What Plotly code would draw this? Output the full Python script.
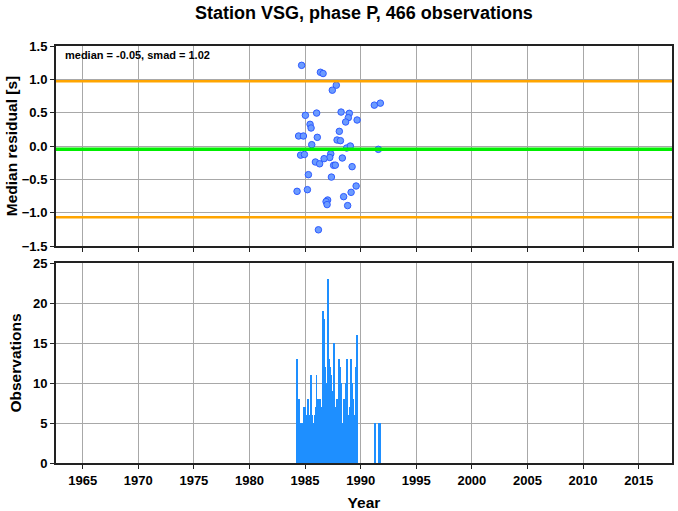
import plotly.graph_objects as go
from plotly.subplots import make_subplots

# ---- data ----
median = -0.05
smad = 1.02

res_years = [1984.69, 1986.38, 1986.62, 1987.81, 1987.45, 1991.23, 1991.77, 1985.03, 1986.04,
             1988.24, 1988.98, 1988.89, 1988.65, 1989.68, 1985.45, 1985.54, 1988.08, 1984.42,
             1984.85, 1986.10, 1987.88, 1988.18, 1985.60, 1988.74, 1989.07, 1991.59, 1984.60,
             1984.94, 1987.31, 1987.22, 1986.71, 1985.93, 1986.31, 1988.35, 1987.57, 1987.72,
             1989.23, 1985.30, 1987.37, 1989.59, 1984.28, 1985.21, 1989.14, 1988.47, 1987.03,
             1986.89, 1986.98, 1988.83, 1986.20]
res_values = [1.21, 1.106, 1.087, 0.912, 0.837, 0.613, 0.643, 0.46, 0.494,
              0.509, 0.49, 0.425, 0.36, 0.39, 0.325, 0.27, 0.22, 0.15,
              0.15, 0.13, 0.09, 0.08, 0.02, -0.03, 0.0, -0.05, -0.137,
              -0.127, -0.117, -0.172, -0.19, -0.24, -0.267, -0.18, -0.29, -0.287,
              -0.31, -0.43, -0.466, -0.6, -0.68, -0.655, -0.695, -0.76, -0.81,
              -0.834, -0.879, -0.894, -1.257]

obs_years = [1984.28, 1984.43, 1984.58, 1984.73, 1984.88, 1984.97, 1985.09, 1985.27, 1985.39,
             1985.54, 1985.63, 1985.72, 1985.84, 1985.93, 1986.02, 1986.17, 1986.32, 1986.44,
             1986.59, 1986.68, 1986.80, 1986.89, 1987.04, 1987.16, 1987.28, 1987.39, 1987.48,
             1987.63, 1987.75, 1987.87, 1988.05, 1988.14, 1988.26, 1988.35, 1988.50, 1988.68,
             1988.80, 1988.89, 1989.01, 1989.13, 1989.22, 1989.31, 1989.43, 1989.58, 1989.67,
             1991.26, 1991.59, 1991.74]
obs_counts = [13, 8, 5, 5, 7, 7, 6, 8, 6,
              11, 6, 5, 6, 7, 11, 8, 8, 7,
              19, 18, 12, 10, 23, 13, 12, 11, 9,
              15, 7, 8, 13, 12, 10, 5, 8, 10,
              13, 6, 7, 13, 10, 8, 6, 12, 16,
              5, 5, 5]

title_text = "Station VSG, phase P, 466 observations"

# ---- figure ----
FONT = "Liberation Sans, Arial, Helvetica, sans-serif"
fig = make_subplots(rows=2, cols=1, shared_xaxes=False, vertical_spacing=0.0)

fig.add_trace(go.Scatter(
    x=res_years, y=res_values, mode="markers",
    marker=dict(size=6.5, color="#6b9bff", line=dict(color="#2f5cff", width=1)),
    showlegend=False, hoverinfo="x+y"), row=1, col=1)

fig.add_trace(go.Bar(
    x=obs_years, y=obs_counts, width=0.06,
    marker=dict(color="#1e8fff", line=dict(width=0)),
    showlegend=False), row=2, col=1)

for yv, col, w in [(median + smad, "#ffa500", 2.5), (median - smad, "#ffa500", 2.5), (median, "#00ee00", 3.5)]:
    fig.add_shape(type="line", xref="x domain", yref="y", x0=0, x1=1, y0=yv, y1=yv,
                  line=dict(color=col, width=w), layer="above")

xr = [1962.6, 2018.0]
axis_common = dict(showline=True, linecolor="#222", linewidth=2, mirror=True,
                   ticks="outside", ticklen=4, tickcolor="#222", tickwidth=1,
                   showgrid=True, gridcolor="#a8a8a8", gridwidth=1, zeroline=False,
                   automargin=False,
                   tickfont=dict(family=FONT, size=13, color="black", weight="bold"))

fig.update_xaxes(range=xr, dtick=5, tick0=1965, **axis_common)
fig.update_xaxes(showticklabels=False, row=1, col=1)
fig.update_xaxes(title=dict(text="Year", font=dict(family=FONT, size=15.5, color="black", weight="bold"),
                            standoff=12), row=2, col=1)

fig.update_yaxes(**axis_common)
fig.update_yaxes(range=[-1.5, 1.5], dtick=0.5, tickformat=".1f", row=1, col=1,
                 title=dict(text="Median residual [s]",
                            font=dict(family=FONT, size=15.5, color="black", weight="bold"), standoff=0))
fig.update_yaxes(range=[0, 25], dtick=5, row=2, col=1,
                 title=dict(text="Observations",
                            font=dict(family=FONT, size=15.5, color="black", weight="bold"), standoff=8))

fig.update_layout(
    width=678, height=511,
    margin=dict(l=56, r=6, t=46, b=48, autoexpand=False),
    paper_bgcolor="white", plot_bgcolor="white",
    title=dict(text=title_text, xref="paper", x=0.5, xanchor="center", y=0.976, yanchor="middle",
               font=dict(family=FONT, size=18, color="black", weight="bold")),
    bargap=0,
    annotations=[dict(text="median = %.2f, smad = %.2f" % (median, smad),
                      xref="x domain", yref="y domain", x=0.012, y=0.995,
                      xanchor="left", yanchor="top", showarrow=False,
                      font=dict(family=FONT, size=11, color="black", weight="bold"))],
)
fig.layout.yaxis.domain = [217 / 417, 1.0]
fig.layout.yaxis2.domain = [0.0, 200 / 417]

fig.write_html("out.html", config={"displayModeBar": False},
               post_script="document.body.style.margin='0';document.body.style.overflow='hidden';")
